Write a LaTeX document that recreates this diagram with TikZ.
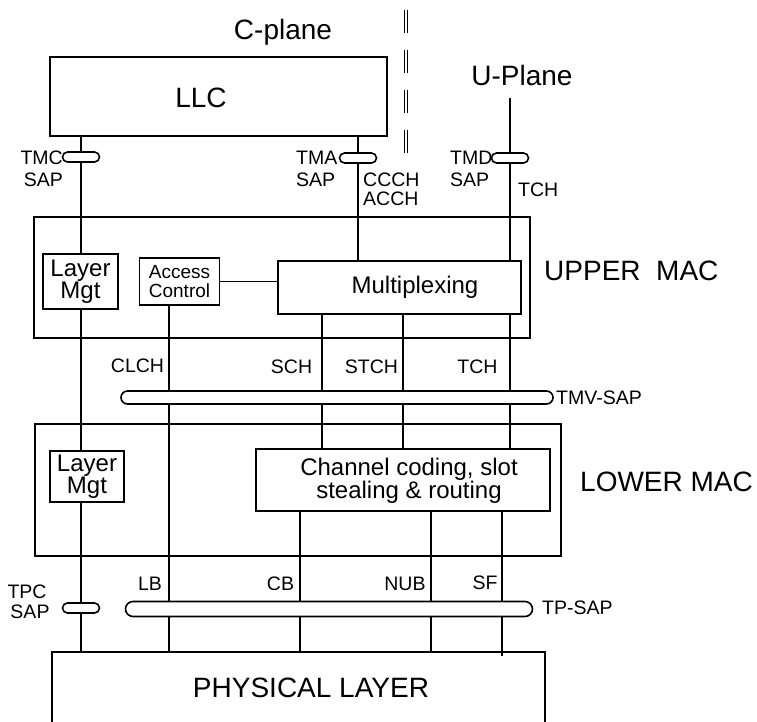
\documentclass[tikz,border=0pt]{standalone}
\usepackage{fontspec}
\setmainfont{Liberation Sans}
\begin{document}
\begin{tikzpicture}[x=1pt,y=-1pt,
  box/.style={draw, line width=1.8pt, inner sep=0pt},
  wbox/.style={box, fill=white},
  sapo/.style={draw, fill=white, line width=1.6pt, inner sep=0pt},
  ln/.style={line width=1.4pt},
  dl/.style={line width=0.8pt, dash pattern=on 23pt off 17pt},
  big/.style={font=\fontsize{28}{30}\selectfont, inner sep=0pt},
  mid/.style={font=\fontsize{24}{22}\selectfont, align=center, inner sep=0pt},
  lab/.style={font=\fontsize{19.5}{22}\selectfont, inner sep=0pt}]
\useasboundingbox (0,0) rectangle (757,722);
\clip (0,0) rectangle (757,722);

% outer boxes
\node[box, minimum width=337pt, minimum height=79pt] (llc) at (218.5,96.5) {};
\node[box, minimum width=496pt, minimum height=121pt] (umac) at (282,277.5) {};
\node[box, minimum width=526pt, minimum height=132pt] (lmac) at (298,490) {};
\node[box, minimum width=493pt, minimum height=108pt] (phy) at (298.5,706) {};

% x references
\coordinate (xac) at (169,0);
\coordinate (xsch) at (322,0);
\coordinate (xstch) at (403,0);
\coordinate (xcb) at (300,0);
\coordinate (xnub) at (431,0);
\coordinate (xsf) at (502,0);
\coordinate (utop) at (510,98);
\coordinate (sfend) at (502,656);

% inner boxes placeholders (for anchors)
\path node[minimum width=75pt, minimum height=55pt, inner sep=0pt] (lmu) at (80.5,281.5) {};
\path node[minimum width=80pt, minimum height=47pt, inner sep=0pt] (ac) at (179.5,281.5) {};
\path node[minimum width=243pt, minimum height=53pt, inner sep=0pt] (mux) at (399.5,287.5) {};
\path node[minimum width=74pt, minimum height=51pt, inner sep=0pt] (lml) at (87,476.5) {};
\path node[minimum width=294pt, minimum height=62pt, inner sep=0pt] (cc) at (403,480) {};
\path node[minimum width=37pt, minimum height=10pt, inner sep=0pt] (tmcs) at (81,157) {};
\path node[minimum width=37pt, minimum height=10pt, inner sep=0pt] (tmas) at (358,158) {};
\path node[minimum width=37pt, minimum height=10pt, inner sep=0pt] (tmds) at (510,158) {};
\path node[minimum width=37pt, minimum height=10pt, inner sep=0pt] (tpcs) at (81,608) {};
\path node[minimum width=432pt, minimum height=13pt, inner sep=0pt] (tmv) at (337,397.5) {};
\path node[minimum width=407pt, minimum height=15pt, inner sep=0pt] (tps) at (329,609) {};

% connectors
\draw[ln] (llc.south -| tmcs) -- (phy.north -| tmcs);
\draw[ln] (ac.south -| xac) -- (phy.north -| xac);
\draw[ln] (llc.south -| tmas) -- (mux.north -| tmas);
\draw[ln] (utop) -- (cc.north -| utop);
\draw[ln] (ac.east) -- (ac.east -| mux.west);
\draw[ln] (mux.south -| xsch) -- (cc.north -| xsch);
\draw[ln] (mux.south -| xstch) -- (cc.north -| xstch);
\draw[ln] (cc.south -| xcb) -- (phy.north -| xcb);
\draw[ln] (cc.south -| xnub) -- (phy.north -| xnub);
\draw[ln] (cc.south -| xsf) -- (sfend);

% dashed separator
\coordinate (da1) at (404,10); \coordinate (db1) at (404,155);
\coordinate (da2) at (407,10); \coordinate (db2) at (407,155);
\draw[dl] (da1) -- (db1);
\draw[dl] (da2) -- (db2);

% inner boxes drawn over lines
\node[wbox, minimum width=75pt, minimum height=55pt, mid] (lmub) at (lmu) {Layer\\Mgt};
\node[wbox, minimum width=80pt, minimum height=47pt, align=center, font=\fontsize{19}{19.5}\selectfont] (acb) at (ac) {Access\\Control};
\node[wbox, minimum width=243pt, minimum height=53pt] (muxb) at (mux) {};
\node[wbox, minimum width=74pt, minimum height=51pt, mid] (lmlb) at (lml) {Layer\\Mgt};
\node[wbox, minimum width=294pt, minimum height=62pt] (ccb) at (cc) {};

% SAP ovals
\node[sapo, minimum width=37pt, minimum height=10pt, rounded corners=5pt] (tmco) at (tmcs) {};
\node[sapo, minimum width=37pt, minimum height=10pt, rounded corners=5pt] (tmao) at (tmas) {};
\node[sapo, minimum width=37pt, minimum height=10pt, rounded corners=5pt] (tmdo) at (tmds) {};
\node[sapo, minimum width=37pt, minimum height=10pt, rounded corners=5pt] (tpco) at (tpcs) {};
\node[sapo, minimum width=432pt, minimum height=13pt, rounded corners=6.5pt] (tmvo) at (tmv) {};
\node[sapo, minimum width=407pt, minimum height=15pt, rounded corners=7.5pt] (tpso) at (tps) {};

% texts
\node[big] (cpl) at (283,32) {C-plane};
\node[big] (upl) at (522,75) {U-Plane};
\node[big] (llct) at (201,98) {LLC};
\node[mid] (muxt) at (415,287) {Multiplexing};
\node[mid] (cct) at (409,481) {Channel coding, slot\\stealing \& routing};
\node[big, anchor=west] (umact) at (544,271) {UPPER\ \ MAC};
\node[big, anchor=west] (lmact) at (580,482) {LOWER MAC};
\node[big] (phyt) at (311,688) {PHYSICAL LAYER};

\node[lab, anchor=east] (l1) at (63,158) {TMC};
\node[lab, anchor=east] (l2) at (63,180) {SAP};
\node[lab, anchor=west] (l3) at (296,158) {TMA};
\node[lab, anchor=west] (l4) at (296,180) {SAP};
\node[lab, anchor=west] (l5) at (363,180) {CCCH};
\node[lab, anchor=west] (l6) at (363,199) {ACCH};
\node[lab, anchor=west] (l7) at (450,158) {TMD};
\node[lab, anchor=west] (l8) at (450,180) {SAP};
\node[lab, anchor=west] (l9) at (518,190) {TCH};
\node[lab] (l10) at (137.5,366) {CLCH};
\node[lab] (l11) at (291.5,367) {SCH};
\node[lab] (l12) at (371.5,367) {STCH};
\node[lab] (l13) at (477.5,367) {TCH};
\node[lab, anchor=west] (l14) at (556,398) {TMV-SAP};
\node[lab] (l15) at (27,592) {TPC};
\node[lab] (l16) at (30,612) {SAP};
\node[lab] (l17) at (150,584) {LB};
\node[lab] (l18) at (280.5,584) {CB};
\node[lab] (l19) at (405,584) {NUB};
\node[lab] (l20) at (485,583) {SF};
\node[lab, anchor=west] (l21) at (542,608) {TP-SAP};
\end{tikzpicture}
\end{document}
